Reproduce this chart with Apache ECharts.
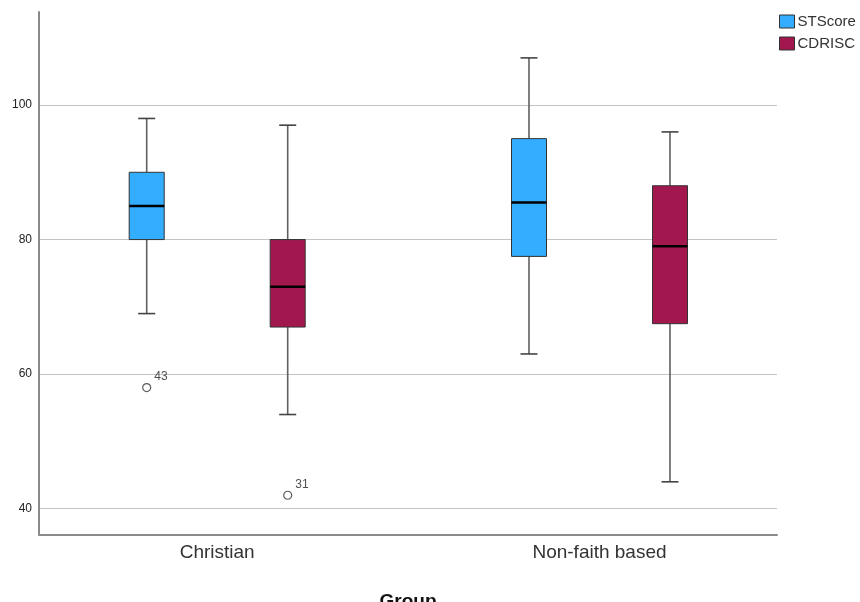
<!DOCTYPE html>
<html><head><meta charset="utf-8">
<script src="https://cdn.jsdelivr.net/npm/echarts@6/dist/echarts.min.js"></script>
<style>html,body{margin:0;padding:0;background:#fff}#c{width:860px;height:602px}</style>
</head><body><div id="c"></div>
<script>
const categories = ['Christian', 'Non-faith based'];
const seriesNames = ['STScore', 'CDRISC'];
// [min, Q1, median, Q3, max] per category
const stscoreBoxes = [[69, 80, 85, 90, 98], [63, 77.5, 85.5, 95, 107]];
const cdriscBoxes = [[54, 67, 73, 80, 97], [44, 67.5, 79, 88, 96]];
// [categoryIndex, value, case label]
const stscoreOutliers = [[0, 58, '43']];
const cdriscOutliers = [[0, 42, '31']];
const yTicks = [40, 60, 80, 100];

const FONT = 'Liberation Sans, Arial, sans-serif';
const Y_MIN = 36.17, Y_MAX = 113.82;
const BOX_W = 35, CAP_W = 17, OFFSET = 70.5;
const WHISKER = '#606060';
const colors = ['#33ADFF', '#A2184E'];

function makeRender(offset) {
  return function (params, api) {
    const c = api.value(0);
    const pMin = api.coord([c, api.value(1)]);
    const pQ1 = api.coord([c, api.value(2)]);
    const pMed = api.coord([c, api.value(3)]);
    const pQ3 = api.coord([c, api.value(4)]);
    const pMax = api.coord([c, api.value(5)]);
    const x = pMed[0] + offset;
    const hw = BOX_W / 2, cw = CAP_W / 2;
    const color = api.visual('color');
    const ws = { stroke: WHISKER, lineWidth: 1.6 };
    return {
      type: 'group',
      children: [
        { type: 'line', shape: { x1: x, y1: pMax[1], x2: x, y2: pQ3[1] }, style: ws },
        { type: 'line', shape: { x1: x, y1: pQ1[1], x2: x, y2: pMin[1] }, style: ws },
        { type: 'line', shape: { x1: x - cw, y1: pMax[1], x2: x + cw, y2: pMax[1] }, style: { stroke: '#444', lineWidth: 1.6 } },
        { type: 'line', shape: { x1: x - cw, y1: pMin[1], x2: x + cw, y2: pMin[1] }, style: { stroke: '#444', lineWidth: 1.6 } },
        { type: 'rect', shape: { x: x - hw, y: pQ3[1], width: BOX_W, height: pQ1[1] - pQ3[1] }, style: { fill: color, stroke: '#333', lineWidth: 1 } },
        { type: 'line', shape: { x1: x - hw, y1: pMed[1], x2: x + hw, y2: pMed[1] }, style: { stroke: '#000', lineWidth: 2.5 } }
      ]
    };
  };
}

function outlierSeries(name, data, offset) {
  return {
    name: name, type: 'scatter', xAxisIndex: 1, yAxisIndex: 1,
    data: data, symbol: 'circle', symbolSize: 8, symbolOffset: [offset, 0],
    itemStyle: { color: '#fff', borderColor: '#333', borderWidth: 1.2 },
    label: {
      show: true, position: 'right', distance: 3, offset: [0, -11],
      formatter: p => p.value[2], fontSize: 12, color: '#222', fontFamily: FONT
    },
    z: 5, silent: true
  };
}

const chart = echarts.init(document.getElementById('c'), null, { renderer: 'canvas' });
chart.setOption({
  animation: false,
  backgroundColor: '#fff',
  textStyle: { fontFamily: FONT },
  legend: {
    data: seriesNames, orient: 'vertical', left: 779, top: 14,
    icon: 'rect', itemWidth: 15, itemHeight: 13, itemGap: 7,
    textStyle: { fontSize: 15, color: '#333', fontFamily: FONT, lineHeight: 15, padding: [0, 0, 0, -2] },
    itemStyle: { borderColor: '#333', borderWidth: 1 },
    padding: 0
  },
  grid: [
    { left: 39, right: 83, top: 12, bottom: 67.5, outerBoundsMode: 'none', containLabel: false },
    { left: 26.05, right: 69.35, top: 12, bottom: 67.5, outerBoundsMode: 'none', containLabel: false }
  ],
  xAxis: [
    {
      gridIndex: 0, type: 'value', min: 0, max: 1,
      axisLine: { show: true, lineStyle: { color: '#8a8a8a', width: 2 } },
      axisTick: { show: false }, axisLabel: { show: false }, splitLine: { show: false },
      name: 'Group', nameLocation: 'middle', nameGap: 57.5,
      nameTextStyle: { fontSize: 19, fontWeight: 'bold', color: '#111', fontFamily: FONT }
    },
    {
      gridIndex: 1, type: 'category', data: categories, boundaryGap: true,
      axisLine: { show: false }, axisTick: { show: false }, splitLine: { show: false },
      axisLabel: { fontSize: 19, color: '#333', margin: 9, fontFamily: FONT }
    }
  ],
  yAxis: [
    {
      gridIndex: 0, type: 'value', min: Y_MIN, max: Y_MAX,
      axisLine: { show: true, lineStyle: { color: '#8a8a8a', width: 2 } },
      axisTick: { show: false, customValues: yTicks },
      axisLabel: { customValues: yTicks, fontSize: 12, color: '#222', margin: 7, fontFamily: FONT },
      splitLine: { show: true, showMinLine: true, showMaxLine: true, lineStyle: { color: '#c4c4c4', width: 1.2 } }
    },
    {
      gridIndex: 1, type: 'value', min: Y_MIN, max: Y_MAX, show: false,
      splitLine: { show: false }
    }
  ],
  series: [
    {
      name: seriesNames[0], type: 'custom', xAxisIndex: 1, yAxisIndex: 1,
      renderItem: makeRender(-OFFSET),
      itemStyle: { color: colors[0], borderColor: '#333', borderWidth: 1 },
      encode: { x: 0, y: [1, 2, 3, 4, 5] },
      data: stscoreBoxes.map((b, i) => [i].concat(b)), z: 3
    },
    {
      name: seriesNames[1], type: 'custom', xAxisIndex: 1, yAxisIndex: 1,
      renderItem: makeRender(OFFSET),
      itemStyle: { color: colors[1], borderColor: '#333', borderWidth: 1 },
      encode: { x: 0, y: [1, 2, 3, 4, 5] },
      data: cdriscBoxes.map((b, i) => [i].concat(b)), z: 3
    },
    outlierSeries('STScore outliers', stscoreOutliers, -OFFSET),
    outlierSeries('CDRISC outliers', cdriscOutliers, OFFSET)
  ]
});
</script>
</body></html>
